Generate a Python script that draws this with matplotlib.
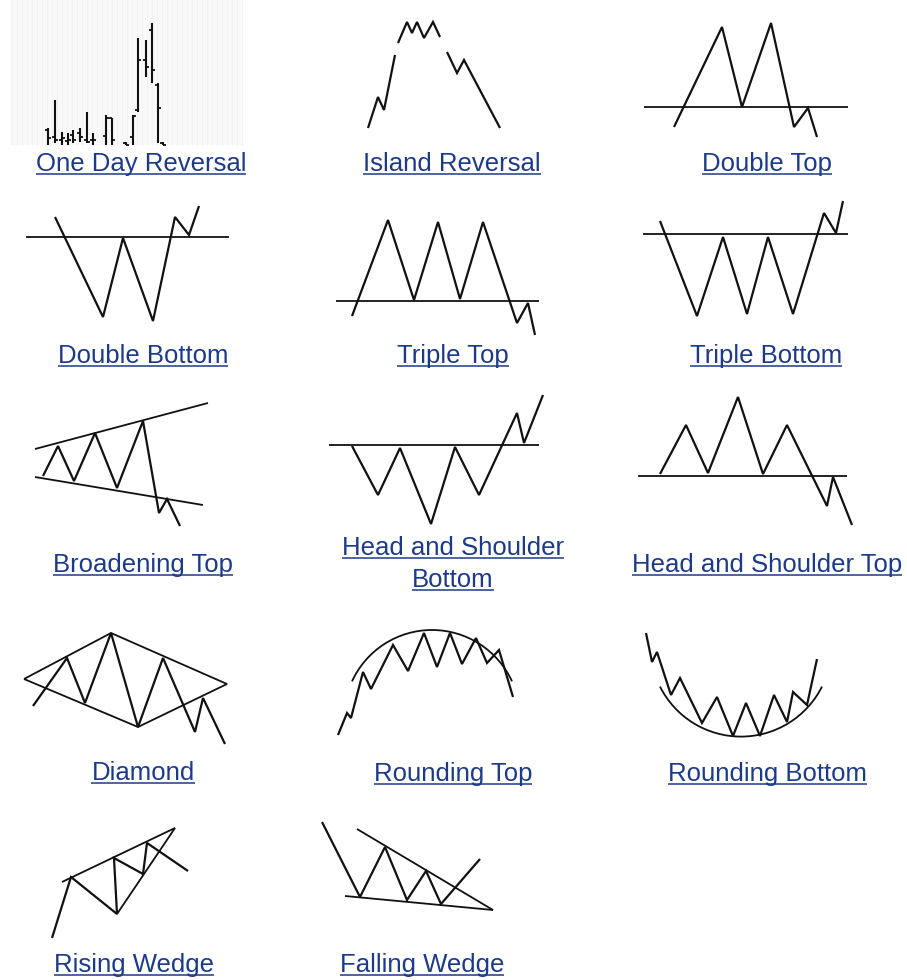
import matplotlib
matplotlib.use("Agg")
import matplotlib.pyplot as plt
from matplotlib.patches import Arc, Rectangle

W, H = 907, 980

# ---------------- data (pixel-space sketches of each pattern) ----------------
# One Day Reversal: OHLC bars
odr_x = [48, 55, 62, 68, 73, 80, 87, 93, 106, 112, 126, 133, 138, 146, 152, 158, 163]
odr_high = [128, 100, 132, 133, 130, 128, 112, 133, 115, 118, 142, 115, 38, 40, 23, 83, 142]
odr_low = [145, 143, 145, 145, 143, 142, 143, 145, 145, 145, 145, 145, 112, 77, 83, 143, 145]
odr_open = [130, 137, 140, 141, 135, 133, 140, 140, 136, 118, 143, 137, 110, 60, 30, 85, 143]
odr_close = [138, 140, 138, 140, 140, 137, 142, 140, 118, 140, 145, 116, 60, 67, 70, 108, 145]

# Island Reversal: three segments separated by gaps
isl1_x = [368, 378, 384, 395]
isl1_y = [128, 97, 110, 55]
isl2_x = [398, 407, 412, 417, 424, 433, 440]
isl2_y = [43, 22, 33, 22, 38, 22, 37]
isl3_x = [447, 457, 464, 500]
isl3_y = [52, 73, 60, 128]

# Double Top
dt_x = [674, 722, 742, 771, 794, 808, 817]
dt_y = [127, 27, 107, 23, 127, 108, 137]
dt_neck_x = [644, 848]
dt_neck_y = [107, 107]

# Double Bottom
db_x = [55, 103, 123, 153, 175, 189, 199]
db_y = [217, 317, 238, 321, 217, 235, 206]
db_neck_x = [26, 229]
db_neck_y = [237, 237]

# Triple Top
tt_x = [352, 388, 414, 438, 460, 483, 517, 528, 535]
tt_y = [316, 220, 300, 222, 299, 222, 323, 303, 335]
tt_neck_x = [336, 539]
tt_neck_y = [301, 301]

# Triple Bottom
tb_x = [660, 697, 723, 747, 768, 793, 824, 836, 843]
tb_y = [221, 316, 237, 314, 237, 314, 213, 233, 201]
tb_neck_x = [643, 848]
tb_neck_y = [234, 234]

# Broadening Top
bt_x = [43, 58, 74, 95, 117, 143, 159, 167, 180]
bt_y = [476, 446, 481, 433, 488, 421, 513, 499, 526]
bt_up_x = [35, 208]
bt_up_y = [449, 403]
bt_lo_x = [35, 203]
bt_lo_y = [477, 505]

# Head and Shoulder Bottom
hsb_x = [352, 378, 400, 431, 455, 479, 517, 524, 543]
hsb_y = [446, 495, 448, 524, 447, 495, 413, 443, 395]
hsb_neck_x = [329, 539]
hsb_neck_y = [445, 445]

# Head and Shoulder Top
hst_x = [660, 686, 708, 738, 763, 787, 827, 833, 852]
hst_y = [474, 425, 473, 397, 474, 425, 506, 477, 525]
hst_neck_x = [638, 847]
hst_neck_y = [476, 476]

# Diamond
dia_x = [33, 67, 85, 111, 138, 163, 195, 203, 225]
dia_y = [706, 658, 703, 633, 727, 658, 732, 698, 744]
dia_out_x = [24, 111, 227, 138, 24]
dia_out_y = [679, 633, 684, 727, 679]

# Rounding Top
rt_x = [338, 347, 351, 363, 371, 393, 408, 424, 437, 450, 462, 476, 487, 499, 513]
rt_y = [735, 713, 718, 672, 689, 645, 671, 633, 667, 633, 664, 638, 663, 650, 697]
rt_arc = dict(center=(432, 718), radius=88, theta1=204.6, theta2=335.4)

# Rounding Bottom
rb_x = [646, 652, 657, 671, 680, 702, 717, 733, 746, 760, 774, 787, 793, 807, 817]
rb_y = [633, 662, 652, 695, 678, 723, 697, 736, 703, 736, 695, 722, 692, 705, 659]
rb_arc = dict(center=(741, 646), radius=90.6, theta1=26.6, theta2=153.4)

# Rising Wedge
rw_x = [52, 71, 117, 114, 143, 147, 188]
rw_y = [938, 877, 914, 858, 874, 843, 871]
rw_up_x = [62, 175]
rw_up_y = [882, 828]
rw_lo_x = [117, 175]
rw_lo_y = [914, 828]

# Falling Wedge
fw_x = [322, 360, 385, 407, 426, 441, 480]
fw_y = [822, 897, 847, 900, 871, 904, 859]
fw_up_x = [357, 493]
fw_up_y = [829, 910]
fw_lo_x = [345, 493]
fw_lo_y = [896, 910]

# Labels: text lines, centre x, baselines
labels = ["One Day Reversal", "Island Reversal", "Double Top",
          "Double Bottom", "Triple Top", "Triple Bottom",
          "Broadening Top", "Head and Shoulder", "Bottom", "Head and Shoulder Top",
          "Diamond", "Rounding Top", "Rounding Bottom",
          "Rising Wedge", "Falling Wedge"]
label_x = [141, 452, 767,
           143, 453, 766,
           143, 453, 453, 767,
           143, 453, 767,
           134, 422]
label_y = [171, 171, 171,
           363, 363, 363,
           572, 555, 587, 572,
           780, 781, 781,
           972, 972]

# ---------------- drawing ----------------
fig = plt.figure(figsize=(W / 100, H / 100), dpi=100)
ax = fig.add_axes([0, 0, 1, 1])
ax.set_xlim(0, W)
ax.set_ylim(H, 0)
ax.axis("off")

LW = 1.6
NLW = 1.3
INK = "#111111"
TXT = "#1c3a8a"

# One Day Reversal background (faint chart canvas)
ax.add_patch(Rectangle((10, 0), 233, 145, facecolor="#f9f9f9", edgecolor="none", zorder=0))
for gx in range(12, 243, 5):
    ax.plot([gx, gx], [0, 145], color="#f1f1f1", lw=0.6, zorder=0)

for x, hi, lo, op, cl in zip(odr_x, odr_high, odr_low, odr_open, odr_close):
    ax.plot([x, x], [hi, lo], color=INK, lw=1.5, solid_capstyle="butt")
    ax.plot([x - 3, x], [op, op], color=INK, lw=1.3, solid_capstyle="butt")
    ax.plot([x, x + 3], [cl, cl], color=INK, lw=1.3, solid_capstyle="butt")

def poly(xs, ys, lw=LW):
    ax.plot(xs, ys, color=INK, lw=lw, solid_joinstyle="miter", solid_capstyle="butt")

for xs, ys in [(isl1_x, isl1_y), (isl2_x, isl2_y), (isl3_x, isl3_y),
               (dt_x, dt_y), (db_x, db_y), (tt_x, tt_y), (tb_x, tb_y),
               (bt_x, bt_y), (hsb_x, hsb_y), (hst_x, hst_y), (dia_x, dia_y),
               (rt_x, rt_y), (rb_x, rb_y), (rw_x, rw_y), (fw_x, fw_y)]:
    poly(xs, ys)

for xs, ys in [(dt_neck_x, dt_neck_y), (db_neck_x, db_neck_y), (tt_neck_x, tt_neck_y),
               (tb_neck_x, tb_neck_y), (bt_up_x, bt_up_y), (bt_lo_x, bt_lo_y),
               (hsb_neck_x, hsb_neck_y), (hst_neck_x, hst_neck_y),
               (dia_out_x, dia_out_y), (rw_up_x, rw_up_y), (rw_lo_x, rw_lo_y),
               (fw_up_x, fw_up_y), (fw_lo_x, fw_lo_y)]:
    poly(xs, ys, lw=NLW)

for a in (rt_arc, rb_arc):
    r = a["radius"]
    ax.add_patch(Arc(a["center"], 2 * r, 2 * r, theta1=a["theta1"], theta2=a["theta2"],
                     color=INK, lw=NLW))

texts = []
for s, x, y in zip(labels, label_x, label_y):
    t = ax.text(x, y, s, ha="center", va="baseline", color=TXT, fontsize=18.5,
                family=["Liberation Sans", "DejaVu Sans"])
    texts.append((t, y))

fig.canvas.draw()
r = fig.canvas.get_renderer()
inv = ax.transData.inverted()
for t, y in texts:
    bb = t.get_window_extent(r)
    (x0, _), (x1, _) = inv.transform([(bb.x0, bb.y0), (bb.x1, bb.y0)])
    ax.plot([x0, x1], [y + 3, y + 3], color=TXT, lw=1.1, solid_capstyle="butt")

fig.savefig("out.png", dpi=100, facecolor="white")
